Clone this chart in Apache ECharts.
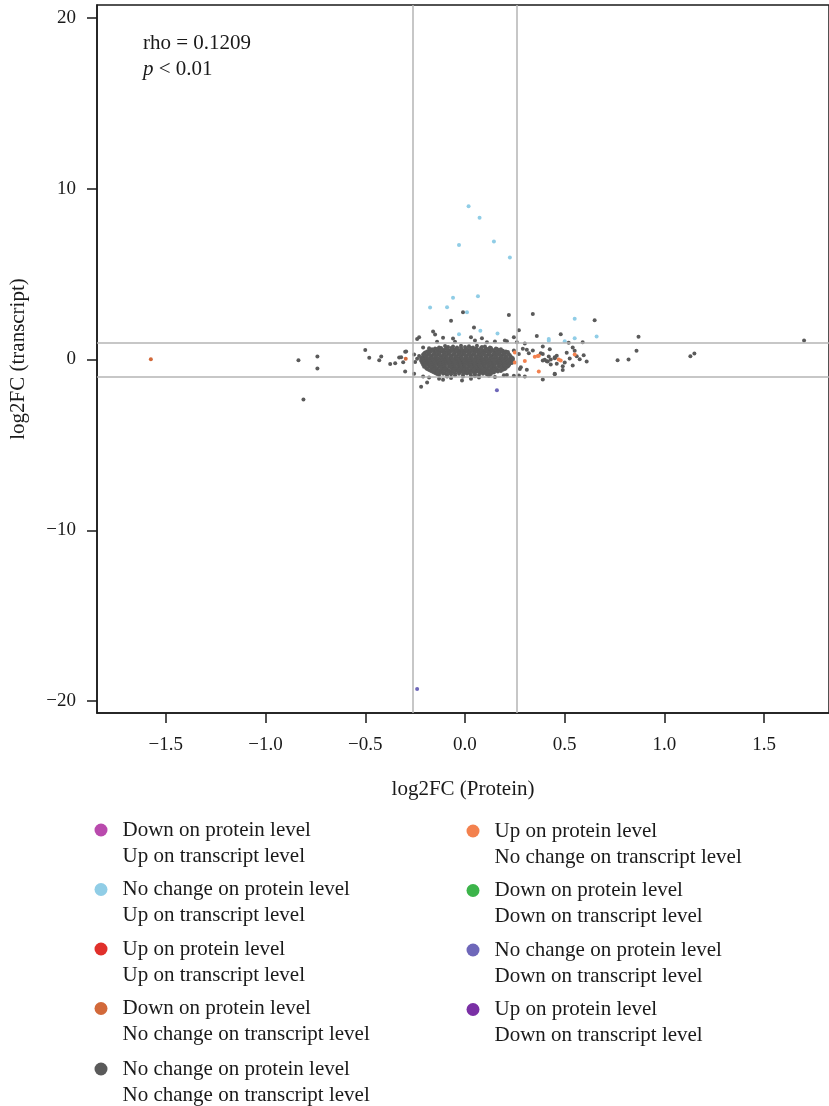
<!DOCTYPE html>
<html>
<head>
<meta charset="utf-8">
<script src="https://cdn.jsdelivr.net/npm/echarts@6/dist/echarts.min.js"></script>
<style>
  html, body { margin: 0; padding: 0; background: #fff; }
  #chart { width: 829px; height: 1106px; }
</style>
</head>
<body>
<div id="chart"></div>
<script>
var xTicks = [-1.5, -1.0, -0.5, 0, 0.5, 1.0, 1.5];
var yTicks = [-20, -10, 0, 10, 20];
var proteinCut = [-0.263, 0.263];
var transcriptCut = [-1, 1];

// No change / No change : dense core (two interleaved passes) + scattered points
var grayCore = [
  [-0.1,0.79],[-0.06,0.76],[-0.02,0.81],[0.02,0.77],[0.06,0.8],[0.1,0.76],
  [-0.15,0.65],[-0.12,0.68],[-0.095,0.64],[-0.07,0.67],[-0.045,0.63],[-0.02,0.69],[0.005,0.65],[0.03,0.67],[0.055,0.64],[0.08,0.68],[0.105,0.65],[0.13,0.67],[0.155,0.64],
  [-0.18,0.53],[-0.155,0.56],[-0.13,0.52],[-0.105,0.55],[-0.08,0.51],[-0.055,0.57],[-0.03,0.54],[-0.005,0.52],[0.02,0.56],[0.045,0.53],[0.07,0.55],[0.095,0.51],[0.12,0.56],[0.145,0.53],[0.17,0.55],[0.19,0.52],
  [-0.2,0.41],[-0.175,0.44],[-0.15,0.4],[-0.125,0.43],[-0.1,0.39],[-0.075,0.45],[-0.05,0.42],[-0.025,0.4],[0,0.44],[0.025,0.41],[0.05,0.43],[0.075,0.39],[0.1,0.44],[0.125,0.42],[0.15,0.4],[0.175,0.43],[0.2,0.41],[0.215,0.44],
  [-0.21,0.29],[-0.185,0.32],[-0.16,0.28],[-0.135,0.31],[-0.11,0.27],[-0.085,0.33],[-0.06,0.3],[-0.035,0.28],[-0.01,0.32],[0.015,0.29],[0.04,0.31],[0.065,0.27],[0.09,0.32],[0.115,0.3],[0.14,0.28],[0.165,0.33],[0.19,0.29],[0.22,0.31],
  [-0.21,0.17],[-0.195,0.2],[-0.17,0.16],[-0.145,0.19],[-0.12,0.15],[-0.095,0.21],[-0.07,0.18],[-0.045,0.16],[-0.02,0.2],[0.005,0.17],[0.03,0.19],[0.055,0.15],[0.08,0.2],[0.105,0.18],[0.13,0.16],[0.155,0.21],[0.18,0.17],[0.205,0.19],[0.23,0.16],
  [-0.22,0.05],[-0.2,0.08],[-0.175,0.04],[-0.15,0.07],[-0.125,0.03],[-0.1,0.09],[-0.075,0.06],[-0.05,0.04],[-0.025,0.08],[0,0.05],[0.025,0.07],[0.05,0.03],[0.075,0.08],[0.1,0.06],[0.125,0.04],[0.15,0.09],[0.175,0.05],[0.2,0.07],[0.225,0.04],[0.24,0.07],
  [-0.22,-0.07],[-0.195,-0.04],[-0.17,-0.08],[-0.145,-0.05],[-0.12,-0.09],[-0.095,-0.03],[-0.07,-0.06],[-0.045,-0.08],[-0.02,-0.04],[0.005,-0.07],[0.03,-0.05],[0.055,-0.09],[0.08,-0.04],[0.105,-0.06],[0.13,-0.08],[0.155,-0.03],[0.18,-0.07],[0.205,-0.05],[0.23,-0.08],
  [-0.215,-0.19],[-0.19,-0.16],[-0.165,-0.2],[-0.14,-0.17],[-0.115,-0.21],[-0.09,-0.15],[-0.065,-0.18],[-0.04,-0.2],[-0.015,-0.16],[0.01,-0.19],[0.035,-0.17],[0.06,-0.21],[0.085,-0.16],[0.11,-0.18],[0.135,-0.2],[0.16,-0.15],[0.185,-0.19],[0.21,-0.17],[0.235,-0.2],
  [-0.21,-0.31],[-0.185,-0.28],[-0.16,-0.32],[-0.135,-0.29],[-0.11,-0.33],[-0.085,-0.27],[-0.06,-0.3],[-0.035,-0.32],[-0.01,-0.28],[0.015,-0.31],[0.04,-0.29],[0.065,-0.33],[0.09,-0.28],[0.115,-0.3],[0.14,-0.32],[0.165,-0.27],[0.19,-0.31],[0.215,-0.29],
  [-0.205,-0.43],[-0.18,-0.4],[-0.155,-0.44],[-0.13,-0.41],[-0.105,-0.45],[-0.08,-0.39],[-0.055,-0.42],[-0.03,-0.44],[-0.005,-0.4],[0.02,-0.43],[0.045,-0.41],[0.07,-0.45],[0.095,-0.4],[0.12,-0.42],[0.145,-0.44],[0.17,-0.39],[0.195,-0.43],[0.215,-0.41],
  [-0.19,-0.55],[-0.165,-0.52],[-0.14,-0.56],[-0.115,-0.53],[-0.09,-0.57],[-0.065,-0.51],[-0.04,-0.54],[-0.015,-0.56],[0.01,-0.52],[0.035,-0.55],[0.06,-0.53],[0.085,-0.57],[0.11,-0.52],[0.135,-0.54],[0.16,-0.56],[0.185,-0.51],[0.2,-0.55],
  [-0.17,-0.67],[-0.145,-0.64],[-0.12,-0.68],[-0.095,-0.65],[-0.07,-0.69],[-0.045,-0.63],[-0.02,-0.66],[0.005,-0.68],[0.03,-0.64],[0.055,-0.67],[0.08,-0.65],[0.105,-0.69],[0.13,-0.64],[0.155,-0.66],[0.18,-0.68],
  [-0.15,-0.79],[-0.125,-0.76],[-0.1,-0.8],[-0.075,-0.77],[-0.05,-0.81],[-0.025,-0.75],[0,-0.78],[0.025,-0.8],[0.05,-0.76],[0.075,-0.79],[0.1,-0.77],[0.125,-0.81],[0.145,-0.76],
  [-0.13,-0.91],[-0.09,-0.88],[-0.05,-0.92],[-0.01,-0.89],[0.03,-0.93],[0.07,-0.9],[0.11,-0.88]
];
var grayCore2 = [
  [-0.13,0.71],[-0.085,0.73],[-0.04,0.7],[0.0,0.74],[0.04,0.71],[0.085,0.73],[0.125,0.7],
  [-0.165,0.6],[-0.14,0.62],[-0.115,0.58],[-0.09,0.61],[-0.065,0.59],[-0.04,0.62],[-0.015,0.58],[0.01,0.61],[0.035,0.59],[0.06,0.62],[0.085,0.58],[0.11,0.61],[0.135,0.59],[0.16,0.62],[0.18,0.6],
  [-0.19,0.47],[-0.165,0.5],[-0.14,0.46],[-0.115,0.49],[-0.09,0.47],[-0.065,0.5],[-0.04,0.46],[-0.015,0.49],[0.01,0.47],[0.035,0.5],[0.06,0.46],[0.085,0.49],[0.11,0.47],[0.135,0.5],[0.16,0.46],[0.185,0.49],[0.205,0.47],
  [-0.205,0.35],[-0.18,0.38],[-0.155,0.34],[-0.13,0.37],[-0.105,0.35],[-0.08,0.38],[-0.055,0.34],[-0.03,0.37],[-0.005,0.35],[0.02,0.38],[0.045,0.34],[0.07,0.37],[0.095,0.35],[0.12,0.38],[0.145,0.34],[0.17,0.37],[0.195,0.35],[0.215,0.37],
  [-0.2,0.23],[-0.175,0.26],[-0.15,0.22],[-0.125,0.25],[-0.1,0.23],[-0.075,0.26],[-0.05,0.22],[-0.025,0.25],[0,0.23],[0.025,0.26],[0.05,0.22],[0.075,0.25],[0.1,0.23],[0.125,0.26],[0.15,0.22],[0.175,0.25],[0.2,0.23],[0.225,0.25],
  [-0.215,0.11],[-0.19,0.14],[-0.165,0.1],[-0.14,0.13],[-0.115,0.11],[-0.09,0.14],[-0.065,0.1],[-0.04,0.13],[-0.015,0.11],[0.01,0.14],[0.035,0.1],[0.06,0.13],[0.085,0.11],[0.11,0.14],[0.135,0.1],[0.16,0.13],[0.185,0.11],[0.21,0.14],[0.235,0.11],
  [-0.21,-0.01],[-0.185,0.02],[-0.16,-0.02],[-0.135,0.01],[-0.11,-0.01],[-0.085,0.02],[-0.06,-0.02],[-0.035,0.01],[-0.01,-0.01],[0.015,0.02],[0.04,-0.02],[0.065,0.01],[0.09,-0.01],[0.115,0.02],[0.14,-0.02],[0.165,0.01],[0.19,-0.01],[0.215,0.02],[0.24,-0.01],
  [-0.205,-0.13],[-0.18,-0.1],[-0.155,-0.14],[-0.13,-0.11],[-0.105,-0.13],[-0.08,-0.1],[-0.055,-0.14],[-0.03,-0.11],[-0.005,-0.13],[0.02,-0.1],[0.045,-0.14],[0.07,-0.11],[0.095,-0.13],[0.12,-0.1],[0.145,-0.14],[0.17,-0.11],[0.195,-0.13],[0.22,-0.1],[0.24,-0.13],
  [-0.2,-0.25],[-0.175,-0.22],[-0.15,-0.26],[-0.125,-0.23],[-0.1,-0.25],[-0.075,-0.22],[-0.05,-0.26],[-0.025,-0.23],[0,-0.25],[0.025,-0.22],[0.05,-0.26],[0.075,-0.23],[0.1,-0.25],[0.125,-0.22],[0.15,-0.26],[0.175,-0.23],[0.2,-0.25],[0.225,-0.23],
  [-0.2,-0.37],[-0.175,-0.34],[-0.15,-0.38],[-0.125,-0.35],[-0.1,-0.37],[-0.075,-0.34],[-0.05,-0.38],[-0.025,-0.35],[0,-0.37],[0.025,-0.34],[0.05,-0.38],[0.075,-0.35],[0.1,-0.37],[0.125,-0.34],[0.15,-0.38],[0.175,-0.35],[0.2,-0.37],[0.22,-0.34],
  [-0.195,-0.49],[-0.17,-0.46],[-0.145,-0.5],[-0.12,-0.47],[-0.095,-0.49],[-0.07,-0.46],[-0.045,-0.5],[-0.02,-0.47],[0.005,-0.49],[0.03,-0.46],[0.055,-0.5],[0.08,-0.47],[0.105,-0.49],[0.13,-0.46],[0.155,-0.5],[0.18,-0.47],[0.205,-0.49],
  [-0.18,-0.61],[-0.155,-0.58],[-0.13,-0.62],[-0.105,-0.59],[-0.08,-0.61],[-0.055,-0.58],[-0.03,-0.62],[-0.005,-0.59],[0.02,-0.61],[0.045,-0.58],[0.07,-0.62],[0.095,-0.59],[0.12,-0.61],[0.145,-0.58],[0.17,-0.62],[0.19,-0.6],
  [-0.16,-0.73],[-0.135,-0.7],[-0.11,-0.74],[-0.085,-0.71],[-0.06,-0.73],[-0.035,-0.7],[-0.01,-0.74],[0.015,-0.71],[0.04,-0.73],[0.065,-0.7],[0.09,-0.74],[0.115,-0.71],[0.14,-0.73],[0.165,-0.7],
  [-0.14,-0.85],[-0.11,-0.83],[-0.07,-0.86],[-0.03,-0.84],[0.01,-0.82],[0.05,-0.86],[0.09,-0.83],[0.13,-0.85]
];
var grayScatter = [
  [-0.835,-0.04],[-0.74,0.18],[-0.74,-0.53],[-0.81,-2.34],[-0.5,0.55],[-0.48,0.1],[-0.43,-0.04],[-0.42,0.18],
  [-0.375,-0.27],[-0.35,-0.22],[-0.33,0.12],[-0.3,0.45],[-0.3,-0.7],[-0.255,-0.84],[-0.22,-1.6],[-0.19,-1.35],
  [-0.24,1.2],[-0.23,1.3],[-0.01,2.77],[-0.07,2.27],[-0.16,1.64],[-0.15,1.46],[0.045,1.87],[0.22,2.6],[0.34,2.67],
  [0.27,1.72],[0.36,1.37],[0.39,-1.17],[0.3,-1.0],[-0.015,-1.23],[0.03,-1.13],[0.07,-1.05],[-0.13,-1.13],[-0.11,-1.19],
  [0.21,1.07],[0.3,0.94],[0.31,0.57],[0.32,0.37],[0.34,0.53],[0.39,0.33],[0.4,-0.02],[0.41,-0.1],[0.43,0],[0.45,0.13],
  [0.31,-0.6],[0.275,-0.55],[0.45,-0.84],
  [0.65,2.3],[0.48,1.48],[0.52,0.98],[0.59,1.01],[0.87,1.33],[0.86,0.51],[0.765,-0.04],[0.82,0],[1.13,0.19],[1.15,0.35],
  [1.7,1.11],[0.39,0.76],[0.38,0.37],[0.425,0.6],[0.39,-0.06],[0.415,-0.12],[0.43,-0.29],[0.42,0.18],[0.45,0.08],
  [0.46,0.22],[0.46,-0.25],[0.5,-0.18],[0.51,0.39],[0.525,0.06],[0.54,0.7],[0.55,0.51],[0.56,0.19],[0.575,0.02],
  [0.595,0.25],[0.61,-0.12],[0.49,-0.39],[0.49,-0.61],[0.45,-0.86],[0.54,-0.35],
  [-0.11,1.27],[-0.14,1.04],[-0.06,1.23],[-0.05,1.04],[-0.21,0.7],[-0.18,0.66],[-0.295,0.47],[-0.32,0.13],[-0.31,-0.16],
  [-0.255,0.3],[-0.24,0.05],[-0.25,-0.15],[-0.23,0.2],[-0.21,-1.0],[-0.18,-1.05],[-0.09,-1.0],[-0.07,-1.08],[-0.01,-1.0],
  [0.03,1.31],[0.05,1.11],[0.085,1.25],[0.11,1.01],[0.15,1.05],[0.2,1.11],[0.245,1.31],[0.26,1.01],[0.29,0.63],
  [0.245,0.53],[0.27,0.33],[0.12,-0.95],[0.15,-1.02],[0.195,-0.92],[0.21,-0.9],[0.245,-0.95],[0.27,-0.93],[0.28,-0.45],[0.05,-0.98]
];
var ncUp = [
  [0.018,8.98],[0.073,8.3],[-0.03,6.7],[0.145,6.91],[0.225,5.97],[-0.06,3.61],[0.065,3.71],[-0.175,3.05],[-0.09,3.06],
  [0.01,2.77],[-0.03,1.48],[0.077,1.68],[0.163,1.52],[0.42,1.1],[0.42,1.2],[0.55,2.38],[0.55,1.25],[0.66,1.35],[0.5,1.07]
];
var upNc = [[0.25,0.41],[0.25,-0.17],[0.3,-0.08],[0.35,0.16],[0.365,0.2],[0.37,0.22],[0.37,-0.7],[0.47,0],[0.48,-0.06],[0.55,0.29]];
var downNc = [[-1.575,0.02],[-0.297,0.05]];
var ncDown = [[-0.24,-19.3],[0.16,-1.8]];
var downUp = [];
var upUp = [];
var downDown = [];
var upDown = [];

var FONT = 'Liberation Serif';
var ink = '#1a1a1a';

function minus(s) { return s.replace('-', '\u2212'); }

function dots(name, color, data) {
  return {
    name: name,
    type: 'scatter',
    data: data,
    symbolSize: 4,
    itemStyle: { color: color, opacity: 1 },
    emphasis: { disabled: true },
    z: 3
  };
}

var names = {
  downUp: 'Down on protein level\nUp on transcript level',
  ncUp: 'No change on protein level\nUp on transcript level',
  upUp: 'Up on protein level\nUp on transcript level',
  downNc: 'Down on protein level\nNo change on transcript level',
  ncNc: 'No change on protein level\nNo change on transcript level',
  upNc: 'Up on protein level\nNo change on transcript level',
  downDown: 'Down on protein level\nDown on transcript level',
  ncDown: 'No change on protein level\nDown on transcript level',
  upDown: 'Up on protein level\nDown on transcript level'
};

// legend text is centred on the icon; a blank first line puts the icon level with line one
function legendBlock(left, top, items) {
  return {
    orient: 'vertical', left: left, top: top, padding: 0, itemGap: -18.5,
    itemWidth: 33, itemHeight: 13, icon: 'circle', selectedMode: false,
    textStyle: { fontFamily: FONT, fontSize: 21, color: ink, lineHeight: 26 },
    formatter: function (name) { return '\n' + name; },
    data: items
  };
}

var chart = echarts.init(document.getElementById('chart'), null, { renderer: 'canvas' });

var option = {
  backgroundColor: '#ffffff',
  animation: false,
  grid: {
    left: 97, top: 5, right: -2, bottom: 393,
    show: true, borderColor: ink, borderWidth: 1.5, backgroundColor: 'transparent'
  },
  xAxis: {
    type: 'value',
    min: -1.845, max: 1.825,
    name: 'log2FC (Protein)',
    nameLocation: 'middle',
    nameGap: 66,
    nameTextStyle: { fontFamily: FONT, fontSize: 21, color: ink },
    axisLine: { show: true, onZero: false, lineStyle: { color: ink, width: 1.5 } },
    axisTick: { show: true, length: 10, lineStyle: { color: ink, width: 1.5 }, customValues: xTicks },
    axisLabel: {
      customValues: xTicks, margin: 23,
      fontFamily: FONT, fontSize: 19, color: ink,
      formatter: function (v) { return minus(v.toFixed(1)); }
    },
    splitLine: { show: false }
  },
  yAxis: {
    type: 'value',
    min: -20.70, max: 20.76,
    name: 'log2FC (transcript)',
    nameLocation: 'middle',
    nameGap: 68,
    nameTextStyle: { fontFamily: FONT, fontSize: 21, color: ink },
    axisLine: { show: true, onZero: false, lineStyle: { color: ink, width: 1.5 } },
    axisTick: { show: true, length: 10, lineStyle: { color: ink, width: 1.5 }, customValues: yTicks },
    axisLabel: {
      customValues: yTicks, margin: 21,
      fontFamily: FONT, fontSize: 19, color: ink,
      formatter: function (v) { return minus(String(v)); }
    },
    splitLine: { show: false }
  },
  legend: [
    legendBlock(94.5, 791, [names.downUp, names.ncUp, names.upUp, names.downNc]),
    legendBlock(94.5, 1030, [names.ncNc]),
    legendBlock(466.5, 792, [names.upNc, names.downDown, names.ncDown, names.upDown])
  ],
  graphic: [
    {
      type: 'text', left: 143, top: 33,
      style: { text: 'rho = 0.1209', fontFamily: FONT, fontSize: 21, fill: ink }
    },
    {
      type: 'text', left: 143, top: 59,
      style: {
        text: '{i|p} < 0.01', fontFamily: FONT, fontSize: 21, fill: ink,
        rich: { i: { fontStyle: 'italic', fontFamily: FONT, fontSize: 21, fill: ink } }
      }
    }
  ],
  series: [
    {
      type: 'scatter', data: [], silent: true, z: 1,
      markLine: {
        silent: true, symbol: ['none', 'none'], animation: false,
        label: { show: false },
        lineStyle: { color: '#b5b5b5', width: 1.5, type: 'solid' },
        emphasis: { disabled: true },
        data: [
          { xAxis: proteinCut[0] }, { xAxis: proteinCut[1] },
          { yAxis: transcriptCut[0] }, { yAxis: transcriptCut[1] }
        ]
      }
    },
    dots(names.ncNc, '#5a5a5a', grayCore.concat(grayCore2, grayScatter)),
    dots(names.ncUp, '#90cde6', ncUp),
    dots(names.upNc, '#f3814e', upNc),
    dots(names.downNc, '#d2693a', downNc),
    dots(names.ncDown, '#6e67b9', ncDown),
    dots(names.downUp, '#b94aad', downUp),
    dots(names.upUp, '#e0302b', upUp),
    dots(names.downDown, '#3cb44a', downDown),
    dots(names.upDown, '#7a30a5', upDown)
  ]
};

chart.setOption(option);
</script>
</body>
</html>
